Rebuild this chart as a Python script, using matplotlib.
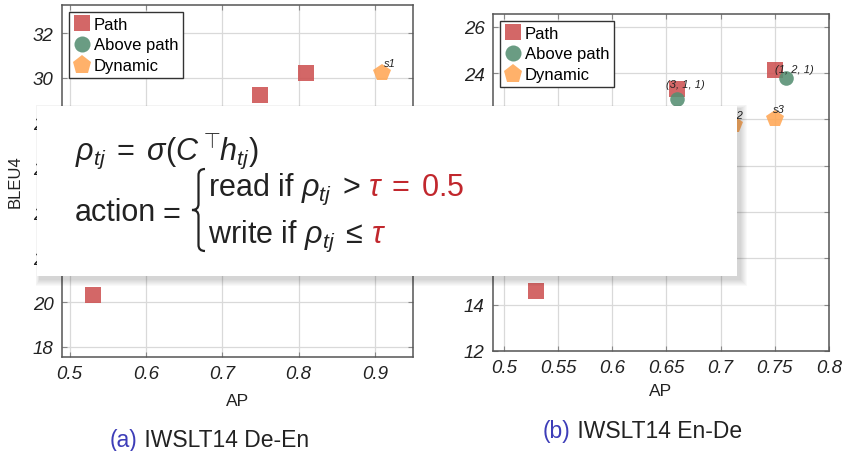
import matplotlib
matplotlib.use("Agg")
import matplotlib.pyplot as plt
from matplotlib.patches import Rectangle, PathPatch
from matplotlib.path import Path
from matplotlib.transforms import Affine2D

plt.rcParams["font.family"] = ["Liberation Sans", "DejaVu Sans"]
plt.rcParams["mathtext.fontset"] = "custom"
plt.rcParams["mathtext.rm"] = "Liberation Sans"
plt.rcParams["mathtext.it"] = "Liberation Sans:italic"
plt.rcParams["mathtext.bf"] = "Liberation Sans:bold"

# ---- data -------------------------------------------------------------
# (a) IWSLT14 De-En
deen_path_ap = [0.53, 0.75, 0.81]
deen_path_bleu = [20.3, 29.25, 30.2]
deen_dyn_ap = [0.91]
deen_dyn_bleu = [30.2]
deen_dyn_labels = ["s1"]
deen_xticks = [0.5, 0.6, 0.7, 0.8, 0.9]
deen_xlabels = ["0.5", "0.6", "0.7", "0.8", "0.9"]
deen_yticks = [18, 20, 22, 24, 26, 28, 30, 32]

# (b) IWSLT14 En-De
ende_path_ap = [0.53, 0.66, 0.75]
ende_path_bleu = [14.6, 23.3, 24.15]
ende_path_labels = ["", "(3, 1, 1)", "(1, 2, 1)"]
ende_above_ap = [0.66, 0.76]
ende_above_bleu = [22.9, 23.8]
ende_dyn_ap = [0.712, 0.75]
ende_dyn_bleu = [21.75, 22.0]
ende_dyn_labels = ["s2", "s3"]
ende_xticks = [0.5, 0.55, 0.6, 0.65, 0.7, 0.75, 0.8]
ende_xlabels = ["0.5", "0.55", "0.6", "0.65", "0.7", "0.75", "0.8"]
ende_yticks = [12, 14, 16, 18, 20, 22, 24, 26]

C_PATH = "#cd5252"
C_ABOVE = "#558f72"
C_DYN = "#ffa755"
INK = "#222222"
W, H = 844, 452

fig = plt.figure(figsize=(W / 100, H / 100), dpi=100)
# pixel coordinates, origin top-left
px = Affine2D().scale(1, -1).translate(0, H)


def style_axes(ax, xticks, xlabels, yticks):
    ax.set_xticks(xticks, xlabels)
    ax.set_yticks(yticks)
    ax.grid(True, color="#d9d9d9", lw=0.9)
    ax.set_axisbelow(True)
    for s in ax.spines.values():
        s.set_color("#555555")
        s.set_linewidth(1.1)
    ax.tick_params(direction="in", length=3.5, width=0.8, color="#888888",
                   top=True, right=True, labelsize=13.5, labelcolor=INK, pad=6)
    for lbl in ax.get_xticklabels() + ax.get_yticklabels():
        lbl.set_fontstyle("italic")


def add_legend(ax, handles):
    ax.legend(handles=handles, loc="upper left", fontsize=12, frameon=True,
              fancybox=False, edgecolor="#333333", framealpha=1,
              borderaxespad=0.4, handletextpad=0.2, handlelength=1.0,
              labelspacing=0.35, borderpad=0.3, markerscale=1.1)


def point_labels(ax, xs, ys, labels, dx, dy):
    for x, y, t in zip(xs, ys, labels):
        if t:
            ax.annotate(t, (x, y), xytext=(dx, dy), textcoords="offset points",
                        fontsize=8, fontstyle="italic", color=INK,
                        ha="left", va="bottom")


mk = dict(ls="none", alpha=0.88, markeredgewidth=0)

# ---- (a) De-En --------------------------------------------------------
ax1 = fig.add_axes([62 / W, 1 - 358 / H, (413 - 62) / W, (358 - 6) / H])
h_path, = ax1.plot(deen_path_ap, deen_path_bleu, marker="s", ms=11,
                   color=C_PATH, label="Path", **mk)
h_above, = ax1.plot([], [], marker="o", ms=10.5, color=C_ABOVE,
                    label="Above path", **mk)
h_dyn, = ax1.plot(deen_dyn_ap, deen_dyn_bleu, marker="p", ms=13,
                  color=C_DYN, label="Dynamic", **mk)
point_labels(ax1, deen_dyn_ap, deen_dyn_bleu, deen_dyn_labels, 1, 4)
ax1.set_xlim(0.49, 0.95)
ax1.set_ylim(17.55, 33.25)
style_axes(ax1, deen_xticks, deen_xlabels, deen_yticks)
ax1.set_xlabel("AP", fontsize=12.5, color=INK, labelpad=8)
ax1.set_ylabel("BLEU4", fontsize=12, color=INK)
ax1.yaxis.set_label_coords(-0.112, 0.5)
add_legend(ax1, [h_path, h_above, h_dyn])

# ---- (b) En-De --------------------------------------------------------
ax2 = fig.add_axes([493 / W, 1 - 352 / H, (829 - 493) / W, (352 - 15) / H])
h_path2, = ax2.plot(ende_path_ap, ende_path_bleu, marker="s", ms=11,
                    color=C_PATH, label="Path", **mk)
h_above2, = ax2.plot(ende_above_ap, ende_above_bleu, marker="o", ms=10.5,
                     color=C_ABOVE, label="Above path", **mk)
h_dyn2, = ax2.plot(ende_dyn_ap, ende_dyn_bleu, marker="p", ms=13,
                   color=C_DYN, label="Dynamic", **mk)
ax2.annotate(ende_path_labels[1], (ende_path_ap[1], ende_path_bleu[1]),
             xytext=(-8, 0), textcoords="offset points", fontsize=8,
             fontstyle="italic", color=INK, ha="left", va="bottom")
ax2.annotate(ende_path_labels[2], (ende_path_ap[2], ende_path_bleu[2]),
             xytext=(0, -3), textcoords="offset points", fontsize=8,
             fontstyle="italic", color=INK, ha="left", va="bottom")
point_labels(ax2, ende_dyn_ap, ende_dyn_bleu, ende_dyn_labels, -1, 4)
ax2.set_xlim(0.49, 0.8)
ax2.set_ylim(12, 26.55)
style_axes(ax2, ende_xticks, ende_xlabels, ende_yticks)
ax2.set_xlabel("AP", fontsize=12.5, color=INK, labelpad=5)
add_legend(ax2, [h_path2, h_above2, h_dyn2])

# ---- captions and overlay ---------------------------------------------
renderer = fig.canvas.get_renderer()


def text_run(parts, x, y, size, gap=0, zorder=7):
    """Lay out coloured text pieces one after another on one baseline."""
    for s, c in parts:
        t = fig.text(x, y, s, fontsize=size, color=c, ha="left",
                     va="baseline", transform=px, zorder=zorder)
        x = t.get_window_extent(renderer).x1 + gap
    return x


BLUE = "#3d3db8"
RED = "#c1272d"
text_run([("(a)", BLUE), (" IWSLT14 De-En", INK)], 110, 447, 16.5)
text_run([("(b)", BLUE), (" IWSLT14 En-De", INK)], 543, 438, 16.5)

# soft shadow under the formula card, heavier to the lower right
for i in range(1, 8):
    fig.patches.append(Rectangle((37 + 3 - i * 0.6, 107 + 3 - i * 0.6),
                                 700 + i * 1.6, 170 + i * 1.6, transform=px,
                                 facecolor="#000000", alpha=0.025,
                                 edgecolor="none", zorder=4))
fig.patches.append(Rectangle((37, 107), 700, 170, transform=px,
                             facecolor="white", edgecolor="none", zorder=5))

SZ = 22
fig.text(75, 160, r"$\rho_{tj}\;=\;\sigma(C^{\top}\!h_{tj})$", fontsize=SZ,
         color=INK, ha="left", va="baseline", transform=px, zorder=7)
text_run([("action", INK), (r"$=$", INK)], 75, 221, SZ, gap=1)
text_run([(r"read if $\rho_{tj}\;>$", INK), (r"$\tau\;=\;0.5$", RED)],
         208, 196, SZ, gap=7)
text_run([(r"write if $\rho_{tj}\;\leq$", INK), (r"$\tau$", RED)],
         208, 243, SZ, gap=7)

# curly brace for the two cases
bx, top, bot, w = 192, 170, 252, 13
mid = (top + bot) / 2
xm = bx + w / 2
verts = [(bx + w, top), (xm, top), (xm, top + 6),
         (xm, mid - 6), (xm, mid), (bx, mid),
         (xm, mid), (xm, mid + 6),
         (xm, bot - 6), (xm, bot), (bx + w, bot)]
codes = [Path.MOVETO, Path.CURVE3, Path.CURVE3,
         Path.LINETO, Path.CURVE3, Path.CURVE3,
         Path.CURVE3, Path.CURVE3,
         Path.LINETO, Path.CURVE3, Path.CURVE3]
fig.patches.append(PathPatch(Path(verts, codes), transform=px, facecolor="none",
                             edgecolor=INK, lw=1.6, zorder=7))

fig.savefig("out.png", dpi=100)
